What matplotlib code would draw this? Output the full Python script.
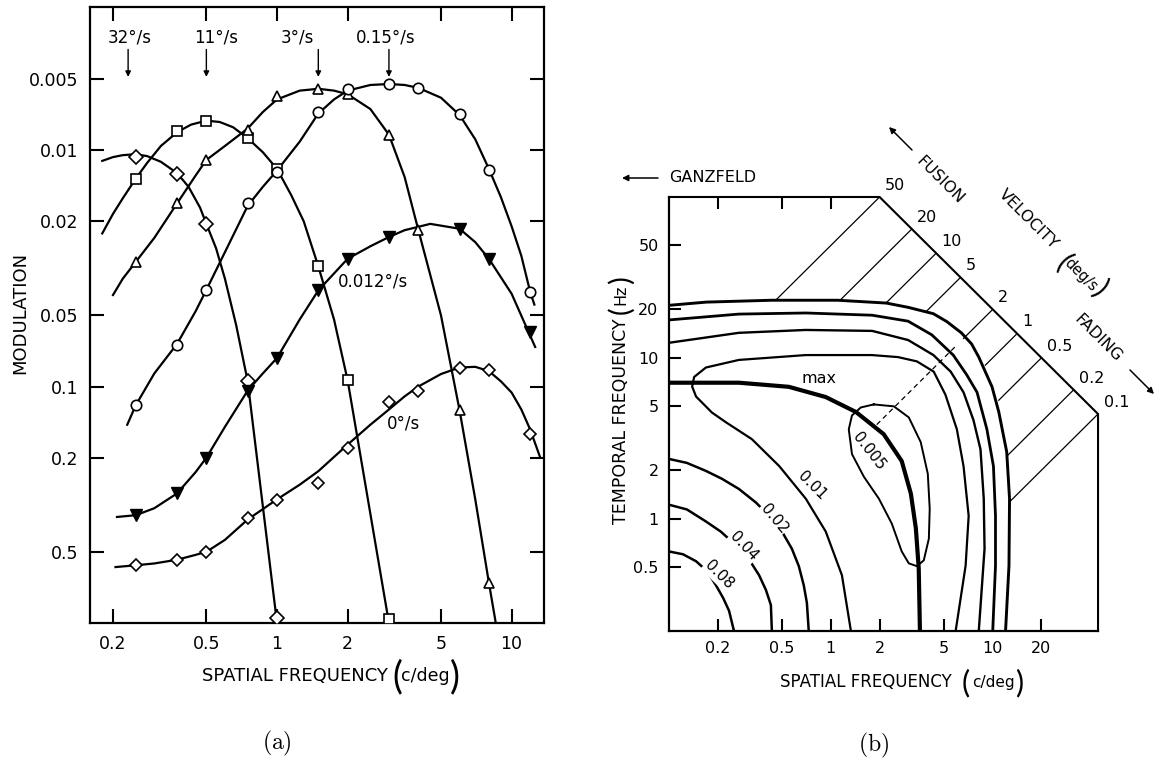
import matplotlib
matplotlib.use("Agg")
import matplotlib.pyplot as plt
from matplotlib.ticker import FixedLocator, FixedFormatter, NullLocator
import numpy as np

plt.rcParams['font.family'] = ['DejaVu Sans']
plt.rcParams['mathtext.fontset'] = 'cm'

W, H = 1161, 765

# ---------------- panel (a): measured points ----------------
sf_32 = [0.25, 0.375, 0.5, 0.75, 1.0]
mod_32 = [0.0107, 0.0126, 0.0206, 0.095, 0.95]
sf_11 = [0.25, 0.375, 0.5, 0.75, 1.0, 1.5, 2.0, 3.0]
mod_11 = [0.0132, 0.0083, 0.0075, 0.0089, 0.0120, 0.031, 0.094, 0.96]
sf_3 = [0.25, 0.375, 0.5, 0.75, 1.0, 1.5, 2.0, 3.0, 4.0, 6.0, 8.0]
mod_3 = [0.0297, 0.0168, 0.0110, 0.0082, 0.0059, 0.0055, 0.0058, 0.0086, 0.0217, 0.126, 0.675]
sf_015 = [0.25, 0.375, 0.5, 0.75, 1.0, 1.5, 2.0, 3.0, 4.0, 6.0, 8.0, 12.0]
mod_015 = [0.12, 0.067, 0.039, 0.0167, 0.0124, 0.0069, 0.0055, 0.00525, 0.00545, 0.0070, 0.0121, 0.0398]
sf_0012 = [0.25, 0.375, 0.5, 0.75, 1.0, 1.5, 2.0, 3.0, 6.0, 8.0, 12.0]
mod_0012 = [0.35, 0.283, 0.2, 0.104, 0.0757, 0.0392, 0.0288, 0.0233, 0.0215, 0.0288, 0.0589]
sf_0 = [0.25, 0.375, 0.5, 0.75, 1.0, 1.5, 2.0, 3.0, 4.0, 6.0, 8.0, 12.0]
mod_0 = [0.57, 0.54, 0.50, 0.359, 0.302, 0.255, 0.182, 0.116, 0.104, 0.0836, 0.0855, 0.158]

# fitted curves
fit_f_32 = [0.18, 0.2, 0.22, 0.25, 0.28, 0.32, 0.375, 0.42, 0.47, 0.5, 0.55, 0.6, 0.67, 0.75, 1.0]
fit_m_32 = [0.0111, 0.0107, 0.0105, 0.0104, 0.0106, 0.0112, 0.0125, 0.0143, 0.0175, 0.0205,
            0.026, 0.035, 0.055, 0.095, 1.0]
fit_f_11 = [0.18, 0.2, 0.22, 0.25, 0.28, 0.32, 0.375, 0.43, 0.5, 0.57, 0.65, 0.75, 0.87, 1.0,
            1.15, 1.3, 1.5, 1.75, 2.0, 3.0]
fit_m_11 = [0.0225, 0.0186, 0.016, 0.0132, 0.0113, 0.0096, 0.0084, 0.0078, 0.0075, 0.0076,
            0.0080, 0.0089, 0.0102, 0.0120, 0.0155, 0.020, 0.031, 0.052, 0.094, 1.0]
fit_f_3 = [0.2, 0.22, 0.25, 0.3, 0.375, 0.45, 0.5, 0.6, 0.75, 0.87, 1.0, 1.25, 1.5, 1.75, 2.0,
           2.5, 3.0, 3.5, 4.0, 5.0, 6.0, 7.0, 8.0, 8.56]
fit_m_3 = [0.041, 0.035, 0.0297, 0.0235, 0.0168, 0.0128, 0.0110, 0.0096, 0.0081, 0.0069, 0.0061,
           0.0056, 0.0055, 0.0056, 0.0058, 0.0067, 0.0086, 0.013, 0.0217, 0.05, 0.126, 0.30,
           0.675, 1.0]
fit_f_015 = [0.23, 0.25, 0.3, 0.375, 0.45, 0.5, 0.6, 0.75, 0.87, 1.0, 1.25, 1.5, 1.75, 2.0, 2.5,
             3.0, 3.5, 4.0, 5.0, 6.0, 7.0, 8.0, 9.0, 10.0, 11.0, 12.0, 12.5]
fit_m_015 = [0.145, 0.12, 0.088, 0.066, 0.048, 0.039, 0.027, 0.0172, 0.0143, 0.0122, 0.0092,
             0.0070, 0.0061, 0.0056, 0.0053, 0.00525, 0.0053, 0.00545, 0.0060, 0.0071, 0.0090,
             0.0120, 0.0158, 0.021, 0.028, 0.0398, 0.045]
fit_f_0012 = [0.208, 0.25, 0.3, 0.375, 0.45, 0.5, 0.6, 0.75, 0.87, 1.0, 1.25, 1.5, 2.0, 2.5, 3.0,
              3.5, 4.5, 6.0, 7.0, 8.0, 10.0, 12.6]
fit_m_0012 = [0.356, 0.35, 0.327, 0.283, 0.23, 0.2, 0.148, 0.104, 0.088, 0.0757, 0.052, 0.0392,
              0.0288, 0.0255, 0.0233, 0.0218, 0.0205, 0.0215, 0.0245, 0.0288, 0.0405, 0.068]
fit_f_0 = [0.205, 0.25, 0.3, 0.375, 0.45, 0.5, 0.6, 0.75, 1.0, 1.25, 1.5, 2.0, 2.5, 3.0, 3.5,
           4.0, 5.0, 6.0, 7.0, 8.0, 9.0, 10.0, 11.0, 12.0, 13.2]
fit_m_0 = [0.58, 0.57, 0.56, 0.54, 0.515, 0.50, 0.445, 0.365, 0.300, 0.26, 0.228, 0.176, 0.145,
           0.125, 0.11, 0.1, 0.0885, 0.083, 0.0825, 0.086, 0.095, 0.106, 0.125, 0.152, 0.198]

xt_a = [0.2, 0.5, 1, 2, 5, 10]
xtl_a = ['0.2', '0.5', '1', '2', '5', '10']
yt_a = [0.005, 0.01, 0.02, 0.05, 0.1, 0.2, 0.5]
ytl_a = ['0.005', '0.01', '0.02', '0.05', '0.1', '0.2', '0.5']

speed_labels = ['32°/s', '11°/s', '3°/s', '0.15°/s']
speed_arrow_f = [0.232, 0.5, 1.5, 3.0]
speed_text_f = [0.235, 0.55, 1.22, 2.91]

# ---------------- panel (b): contours (spatial f, temporal f) ----------------
c1_f = [0.1, 0.17, 0.43, 1.1, 2.2, 3.0, 4.3, 5.2, 6.4, 7.4, 8.2, 9.9, 10.9, 12.2, 12.7, 12.6, 12.0]
c1_t = [21.2, 22.2, 22.8, 22.8, 21.9, 20.6, 18.8, 16.8, 14.3, 12.2, 10.1, 6.6, 4.6, 2.6, 1.33,
        0.51, 0.2]
c2_f = [0.1, 0.27, 0.7, 1.8, 3.0, 4.2, 5.7, 6.9, 8.0, 9.2, 10.1, 10.4, 10.4, 10.0]
c2_t = [17.2, 18.7, 19.0, 18.4, 16.9, 13.9, 10.4, 7.85, 6.1, 3.6, 2.12, 1.04, 0.51, 0.2]
c3_f = [0.1, 0.27, 0.7, 1.8, 3.0, 4.3, 5.5, 6.6, 7.6, 8.4, 8.8, 8.9, 8.2]
c3_t = [12.4, 14.3, 14.9, 14.7, 12.9, 10.4, 8.2, 6.1, 4.1, 2.7, 1.33, 0.65, 0.2]
c4_f = [1.33, 1.17, 0.93, 0.70, 0.48, 0.325, 0.225, 0.184, 0.147, 0.139, 0.143, 0.169, 0.27,
        0.70, 1.79, 2.6, 3.4, 4.32, 5.1, 6.0, 6.6, 7.1, 6.8, 5.9]
c4_t = [0.2, 0.445, 0.83, 1.33, 2.12, 3.12, 3.97, 4.57, 5.74, 6.62, 7.6, 8.7, 9.7,
        10.4, 10.4, 10.1, 9.5, 8.2, 5.9, 3.6, 2.12, 1.04, 0.51, 0.2]
ridge_f = [0.1, 0.27, 0.55, 0.93, 1.43, 2.12, 2.74, 3.12, 3.35, 3.49, 3.55]
ridge_t = [7.0, 7.0, 6.6, 5.7, 4.6, 3.35, 2.28, 1.43, 0.87, 0.49, 0.2]
loop_f = [1.84, 1.53, 1.35, 1.29, 1.35, 1.60, 1.98, 2.38, 2.74, 3.03, 3.40, 3.75, 4.03, 4.08,
          3.97, 3.59, 3.03, 2.45, 1.84]
loop_t = [5.13, 4.91, 4.38, 3.59, 2.52, 1.82, 1.33, 0.93, 0.625, 0.527, 0.506, 0.55, 0.75, 1.15,
          1.90, 2.99, 4.26, 4.99, 5.13]
c002_f = [0.1, 0.129, 0.169, 0.212, 0.27, 0.344, 0.432, 0.506, 0.574, 0.634, 0.68, 0.711, 0.73]
c002_t = [2.35, 2.22, 1.98, 1.77, 1.53, 1.26, 1.0, 0.81, 0.65, 0.506, 0.385, 0.299, 0.2]
c004_f = [0.1, 0.129, 0.169, 0.209, 0.26, 0.312, 0.36, 0.397, 0.426, 0.432]
c004_t = [1.22, 1.14, 0.96, 0.83, 0.68, 0.558, 0.445, 0.36, 0.29, 0.2]
c008_f = [0.1, 0.122, 0.147, 0.172, 0.195, 0.216, 0.235, 0.252]
c008_t = [0.625, 0.60, 0.543, 0.471, 0.385, 0.321, 0.267, 0.2]

contour_labels = ['0.08', '0.04', '0.02', '0.01', '0.005']
contour_lab_f = [0.203, 0.29, 0.445, 0.763, 1.72]
contour_lab_t = [0.445, 0.67, 1.0, 1.6, 2.63]
contour_lab_rot = [-45, -47, -50, -45, -52]

velocities = [50, 20, 10, 5, 2, 1, 0.5, 0.2, 0.1]
vel_labels = ['50', '20', '10', '5', '2', '1', '0.5', '0.2', '0.1']
vel_f_inner = [0.457, 1.15, 2.18, 3.86, 6.6, 9.0, 10.9, 12.2, 12.7]
corner_f, corner_t = 2.0, 100.0

xt_b = [0.2, 0.5, 1, 2, 5, 10, 20]
xtl_b = ['0.2', '0.5', '1', '2', '5', '10', '20']
yt_b = [0.5, 1, 2, 5, 10, 20, 50]
ytl_b = ['0.5', '1', '2', '5', '10', '20', '50']

PAREN = dict(family=['Lato', 'DejaVu Sans'])


def fx(x):
    return x / W


def fy(y):
    return 1 - y / H


def arrow(ax, x0, y0, x1, y1):
    ax.annotate('', xy=(fx(x1), fy(y1)), xytext=(fx(x0), fy(y0)), xycoords='figure fraction',
                arrowprops=dict(arrowstyle='-|>', color='k', lw=1.1, mutation_scale=9,
                                shrinkA=0, shrinkB=0))


fig = plt.figure(figsize=(W / 100, H / 100), dpi=100)

# ================= panel (a) =================
ax_a = fig.add_axes([90 / W, 1 - 623 / H, 454 / W, 616 / H])
ax_a.set_xscale('log')
ax_a.set_yscale('log')

for ff, mm in [(fit_f_32, fit_m_32), (fit_f_11, fit_m_11), (fit_f_3, fit_m_3),
               (fit_f_015, fit_m_015), (fit_f_0012, fit_m_0012), (fit_f_0, fit_m_0)]:
    ax_a.plot(ff, mm, color='k', lw=1.6, zorder=2, solid_joinstyle='round')

mk = dict(ls='none', mfc='white', mec='k', mew=1.2, zorder=3)
ax_a.plot(sf_32, mod_32, marker='D', ms=7.5, **mk)
ax_a.plot(sf_11, mod_11, marker='s', ms=7, **mk)
ax_a.plot(sf_3, mod_3, marker='^', ms=7.5, **mk)
ax_a.plot(sf_015, mod_015, marker='o', ms=7.5, **mk)
ax_a.plot(sf_0012, mod_0012, marker='v', ms=8, ls='none', color='k', zorder=3)
ax_a.plot(sf_0, mod_0, marker='D', ms=6, **mk)

ax_a.set_xlim(0.1596, 13.74)
ax_a.set_ylim(1.0, 0.00248)
ax_a.xaxis.set_major_locator(FixedLocator(xt_a))
ax_a.xaxis.set_major_formatter(FixedFormatter(xtl_a))
ax_a.xaxis.set_minor_locator(NullLocator())
ax_a.yaxis.set_major_locator(FixedLocator(yt_a))
ax_a.yaxis.set_major_formatter(FixedFormatter(ytl_a))
ax_a.yaxis.set_minor_locator(NullLocator())
ax_a.tick_params(which='both', direction='in', top=True, right=True, length=10, width=1.5,
                 labelsize=12.5, pad=8.5)
for s in ax_a.spines.values():
    s.set_linewidth(1.6)

for lab, fa, ft in zip(speed_labels, speed_arrow_f, speed_text_f):
    ax_a.text(ft, 0.00335, lab, ha='center', va='center', fontsize=12)
    ax_a.annotate('', xy=(fa, 0.0049), xytext=(fa, 0.00375),
                  arrowprops=dict(arrowstyle='-|>', color='k', lw=1.0, mutation_scale=8,
                                  shrinkA=0, shrinkB=0))
ax_a.text(2.57, 0.036, '0.012°/s', ha='center', va='center', fontsize=12)
ax_a.text(3.46, 0.143, '0°/s', ha='center', va='center', fontsize=12)

fig.text(fx(20), fy(313), 'MODULATION', rotation=90, ha='center', va='center', fontsize=13)
fig.text(fx(388), fy(676), 'SPATIAL FREQUENCY', ha='right', va='center', fontsize=13)
fig.text(fx(397), fy(677), '(', ha='center', va='center', fontsize=27, **PAREN)
fig.text(fx(425), fy(676), 'c/deg', ha='center', va='center', fontsize=12.5)
fig.text(fx(455), fy(677), ')', ha='center', va='center', fontsize=27, **PAREN)
fig.text(fx(277), fy(743), r'$\mathrm{(a)}$', ha='center', va='center', fontsize=17)

# ================= panel (b) =================
ax_b = fig.add_axes([669 / W, 1 - 631 / H, 429 / W, 434 / H])
ax_b.set_xscale('log')
ax_b.set_yscale('log')
ax_b.set_xlim(0.1, 44.7)
ax_b.set_ylim(0.2, 100)
ax_b.spines['top'].set_visible(False)
ax_b.spines['right'].set_visible(False)
for s in ['left', 'bottom']:
    ax_b.spines[s].set_linewidth(1.6)

# cut-corner frame
edge_f = np.sqrt(corner_f * corner_t / velocities[-1])
edge_t = velocities[-1] * edge_f
ax_b.plot([0.1, corner_f, edge_f, edge_f], [corner_t, corner_t, edge_t, 0.2],
          color='k', lw=1.5, clip_on=False, solid_joinstyle='miter', zorder=4)
ax_b.vlines([0.2, 0.5, 1], 1 - 12 / 434, 1, transform=ax_b.get_xaxis_transform(),
            color='k', lw=1.5)

ax_b.xaxis.set_major_locator(FixedLocator(xt_b))
ax_b.xaxis.set_major_formatter(FixedFormatter(xtl_b))
ax_b.xaxis.set_minor_locator(NullLocator())
ax_b.yaxis.set_major_locator(FixedLocator(yt_b))
ax_b.yaxis.set_major_formatter(FixedFormatter(ytl_b))
ax_b.yaxis.set_minor_locator(NullLocator())
ax_b.tick_params(which='both', direction='in', top=False, right=False, length=8.5, width=1.5,
                 labelsize=11.5, pad=7.5)

# velocity lines
for v, fin, lab in zip(velocities, vel_f_inner, vel_labels):
    f_out = np.sqrt(corner_f * corner_t / v)
    ax_b.plot([fin, f_out], [v * fin, v * f_out], color='k', lw=0.9, clip_on=False)
    ax_b.annotate(lab, xy=(f_out, v * f_out), xytext=(4, 3), textcoords='offset points',
                  ha='left', va='bottom', fontsize=11.5, annotation_clip=False)
ax_b.plot([1.92, 6.0], [2 * 1.92, 2 * 6.0], color='k', lw=0.9, ls=(0, (4, 3)))

for cf, ct, lw in [(c1_f, c1_t, 2.1), (c2_f, c2_t, 2.0), (c3_f, c3_t, 1.7), (c4_f, c4_t, 1.6),
                   (ridge_f, ridge_t, 3.0), (loop_f, loop_t, 1.4), (c002_f, c002_t, 1.8),
                   (c004_f, c004_t, 1.8), (c008_f, c008_t, 1.8)]:
    ax_b.plot(cf, ct, color='k', lw=lw, solid_joinstyle='round')

for i, (lab, cf, ct, rot) in enumerate(zip(contour_labels, contour_lab_f, contour_lab_t,
                                          contour_lab_rot)):
    bb = dict(facecolor='white', edgecolor='none', pad=0.5) if i < 4 else None
    ax_b.text(cf, ct, lab, rotation=rot, ha='center', va='center', fontsize=11, bbox=bb,
              zorder=5)
ax_b.text(0.84, 7.4, 'max', ha='center', va='center', fontsize=11.5)

fig.text(fx(669), fy(178), 'GANZFELD', ha='left', va='center', fontsize=11.5)
arrow(ax_b, 658, 178, 622, 178)
fig.text(fx(940), fy(180), 'FUSION', rotation=-45, ha='center', va='center', fontsize=11.5)
arrow(ax_b, 912, 150, 889, 127)
fig.text(fx(1028), fy(219), 'VELOCITY', rotation=-45, ha='center', va='center', fontsize=11.5)
fig.text(fx(1063), fy(263), '(', rotation=-45, ha='center', va='center', fontsize=21, **PAREN)
fig.text(fx(1081), fy(275), 'deg/s', rotation=-45, ha='center', va='center', fontsize=10.5)
fig.text(fx(1100), fy(289), ')', rotation=-45, ha='center', va='center', fontsize=21, **PAREN)
fig.text(fx(1098), fy(338), 'FADING', rotation=-45, ha='center', va='center', fontsize=11.5)
arrow(ax_b, 1130, 370, 1154, 394)

fig.text(fx(952), fy(682), 'SPATIAL FREQUENCY', ha='right', va='center', fontsize=12)
fig.text(fx(966), fy(683), '(', ha='center', va='center', fontsize=22, **PAREN)
fig.text(fx(993), fy(682), 'c/deg', ha='center', va='center', fontsize=11)
fig.text(fx(1019), fy(683), ')', ha='center', va='center', fontsize=22, **PAREN)
fig.text(fx(621), fy(318), 'TEMPORAL FREQUENCY', rotation=90, ha='center', va='top', fontsize=12.5)
fig.text(fx(621), fy(310), '(', rotation=90, ha='center', va='center', fontsize=21, **PAREN)
fig.text(fx(621), fy(295), 'Hz', rotation=90, ha='center', va='center', fontsize=11.5)
fig.text(fx(621), fy(280), ')', rotation=90, ha='center', va='center', fontsize=21, **PAREN)
fig.text(fx(874), fy(745), r'$\mathrm{(b)}$', ha='center', va='center', fontsize=17)

fig.savefig('out.png', dpi=100)
